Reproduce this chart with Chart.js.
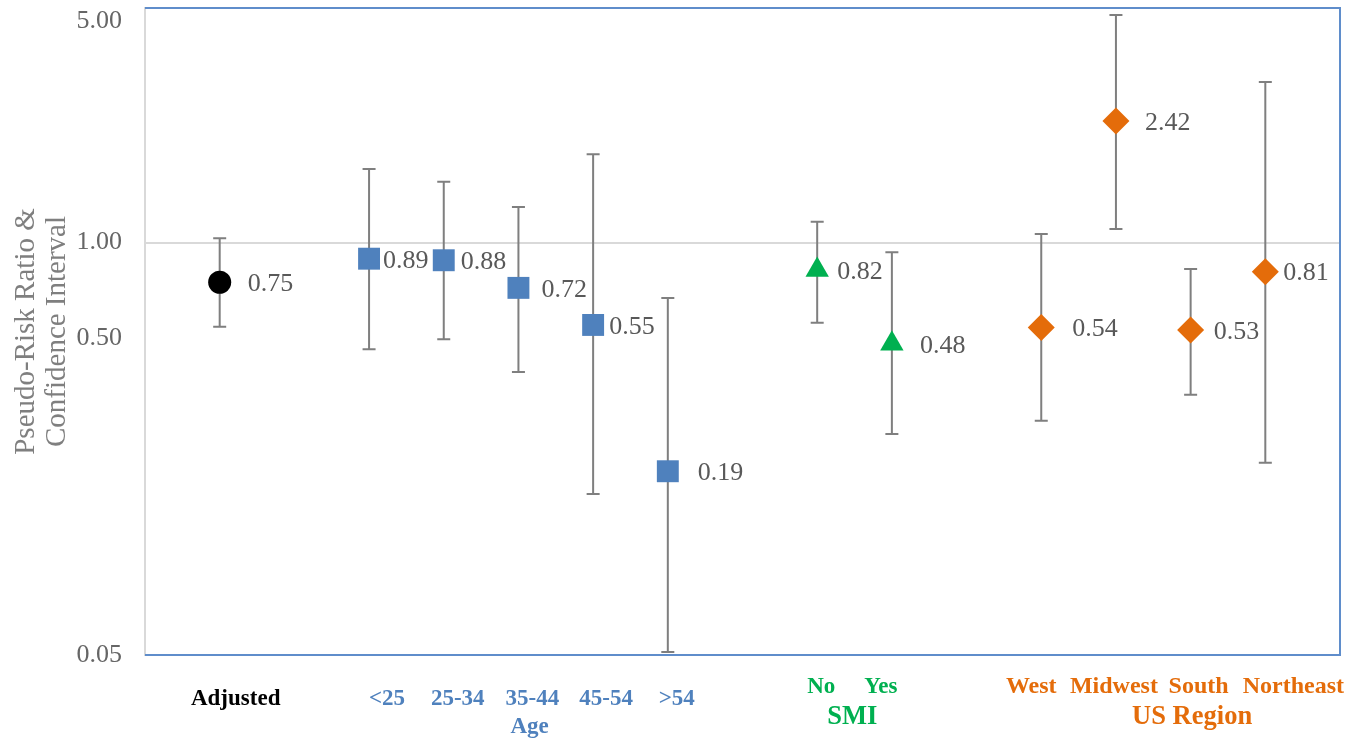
<!DOCTYPE html>
<html>
<head>
<meta charset="utf-8">
<title>Pseudo-Risk Ratio & Confidence Interval</title>
<script src="https://cdn.jsdelivr.net/npm/chart.js@4.4.1/dist/chart.umd.min.js"></script>
<style>
	html, body { margin: 0; padding: 0; background: #fff; }
	canvas { display: block; }
</style>
</head>
<body>
<canvas id="chartRatio" width="1362" height="743"></canvas>
<script>
'use strict'

// data
const categories = ['Adjusted', '<25', '25-34', '35-44', '45-54', '>54', 'No', 'Yes', 'West', 'Midwest', 'South', 'Northeast'];
const xPositions = [0, 2, 3, 4, 5, 6, 8, 9, 11, 12, 13, 14];
const ratios = [0.75, 0.89, 0.88, 0.72, 0.55, 0.19, 0.82, 0.48, 0.54, 2.42, 0.53, 0.81];
const lowerCI = [0.543, 0.461, 0.496, 0.391, 0.161, 0.0511, 0.559, 0.249, 0.274, 1.105, 0.331, 0.202];
const upperCI = [1.032, 1.708, 1.557, 1.296, 1.901, 0.669, 1.165, 0.933, 1.065, 5.23, 0.826, 3.21];
const groupOf = [0, 1, 1, 1, 1, 1, 2, 2, 3, 3, 3, 3];
const groupNames = ['', 'Age', 'SMI', 'US Region'];
const groupCenters = [null, 4.15, 8.47, 13.02];
const yTicks = [0.05, 0.5, 1, 5];

// styling
const serif = "'Liberation Serif', 'Times New Roman', serif";
const colors = {
	adjusted: '#000000',
	age: '#4F81BD',
	smi: '#00B050',
	region: '#E46C0A',
	whisker: '#7F7F7F',
	valueText: '#595959',
	tickText: '#666666',
	title: '#7F7F7F',
	axis: '#D9D9D9',
	frame: '#5F8DCB',
};
const groupStyle = [
	{color: colors.adjusted, size: 23, base: 705},
	{color: colors.age, size: 23, base: 705, gSize: 23, gBase: 733},
	{color: colors.smi, size: 23, base: 693, gSize: 26.5, gBase: 724},
	{color: colors.region, size: 24, base: 693, gSize: 26.5, gBase: 724},
];
const labelGap = [28, 14, 17, 23, 16, 30, 20, 28, 31, 29, 23, 18];
const catShift = [16, 18, 14, 14, 13, 9, 4, -11, -10, -2, 8, 28];

function points(from, to){
	return xPositions.slice(from, to).map((x, i) => ({x: x, y: ratios[from + i]}));
}

const errorBars = {
	id: 'errorBars',
	beforeDatasetsDraw(chart){
		const {ctx, chartArea, scales: {x, y}} = chart;
		ctx.save();
		// frame on top, right and bottom
		ctx.strokeStyle = colors.frame;
		ctx.lineWidth = 2;
		ctx.beginPath();
		ctx.moveTo(chartArea.left, chartArea.top);
		ctx.lineTo(chartArea.right, chartArea.top);
		ctx.lineTo(chartArea.right, chartArea.bottom);
		ctx.lineTo(chartArea.left, chartArea.bottom);
		ctx.stroke();

		ctx.strokeStyle = colors.whisker;
		ctx.lineWidth = 2;
		xPositions.forEach((v, i) => {
			const px = x.getPixelForValue(v);
			const top = y.getPixelForValue(upperCI[i]);
			const bottom = y.getPixelForValue(lowerCI[i]);
			ctx.beginPath();
			ctx.moveTo(px, top);
			ctx.lineTo(px, bottom);
			ctx.moveTo(px - 6.5, top);
			ctx.lineTo(px + 6.5, top);
			ctx.moveTo(px - 6.5, bottom);
			ctx.lineTo(px + 6.5, bottom);
			ctx.stroke();
		});
		ctx.restore();
	},
	afterDatasetsDraw(chart){
		const {ctx, scales: {x, y}} = chart;
		ctx.save();
		ctx.font = '26px ' + serif;
		ctx.fillStyle = colors.valueText;
		ctx.textAlign = 'left';
		ctx.textBaseline = 'middle';
		ratios.forEach((r, i) => {
			ctx.fillText(r.toFixed(2), x.getPixelForValue(xPositions[i]) + labelGap[i], y.getPixelForValue(r) + 2);
		});
		ctx.restore();
	},
};

const categoryLabels = {
	id: 'categoryLabels',
	afterDraw(chart){
		const {ctx, scales: {x}} = chart;
		ctx.save();
		ctx.textAlign = 'center';
		ctx.textBaseline = 'alphabetic';
		categories.forEach((name, i) => {
			const st = groupStyle[groupOf[i]];
			ctx.fillStyle = st.color;
			ctx.font = 'bold ' + st.size + 'px ' + serif;
			ctx.fillText(name, x.getPixelForValue(xPositions[i]) + catShift[i], st.base);
		});
		groupNames.forEach((name, g) => {
			if(!name) return;
			const st = groupStyle[g];
			ctx.fillStyle = st.color;
			ctx.font = 'bold ' + st.gSize + 'px ' + serif;
			ctx.fillText(name, x.getPixelForValue(groupCenters[g]), st.gBase);
		});
		ctx.restore();
	},
};

const pointBase = {
	borderWidth: 0,
	pointBorderWidth: 0,
	pointHoverRadius: 0,
	showLine: false,
};

let chartRatio = new Chart(document.getElementById('chartRatio'), {
	type: 'scatter',
	data: {
		datasets: [
			Object.assign({label: 'Adjusted', data: points(0, 1), pointStyle: 'circle', pointRadius: 11.5, backgroundColor: colors.adjusted}, pointBase),
			Object.assign({label: 'Age', data: points(1, 6), pointStyle: 'rect', pointRadius: 15.5, backgroundColor: colors.age}, pointBase),
			Object.assign({label: 'SMI', data: points(6, 8), pointStyle: 'triangle', pointRadius: 13.5, backgroundColor: colors.smi}, pointBase),
			Object.assign({label: 'US Region', data: points(8, 12), pointStyle: 'rectRot', pointRadius: 13.5, backgroundColor: colors.region}, pointBase),
		],
	},
	options: {
		responsive: false,
		animation: false,
		layout: {
			autoPadding: false,
			padding: {top: 8, right: 22, bottom: 88, left: 0},
		},
		plugins: {
			legend: {display: false},
			tooltip: {enabled: false},
		},
		scales: {
			x: {
				type: 'linear',
				display: false,
				min: -1,
				max: 15,
			},
			y: {
				type: 'logarithmic',
				min: 0.05,
				max: 5.5,
				afterBuildTicks: (scale) => {
					scale.ticks = yTicks.map(v => ({value: v}));
				},
				afterFit: (scale) => {
					scale.width = 145;
					scale.paddingTop = 0;
					scale.paddingBottom = 0;
				},
				ticks: {
					autoSkip: false,
					padding: 23,
					color: colors.tickText,
					font: {family: serif, size: 26},
					callback: (v) => Number(v).toFixed(2),
				},
				grid: {
					drawTicks: false,
					lineWidth: 2,
					color: (c) => c.tick && c.tick.value === 1 ? colors.axis : 'rgba(0,0,0,0)',
				},
				border: {
					color: colors.axis,
					width: 2,
				},
				title: {
					display: true,
					text: ['Pseudo-Risk Ratio &', 'Confidence Interval'],
					color: colors.title,
					font: {family: serif, size: 29, lineHeight: 1.1},
					padding: {top: 10, bottom: 0},
				},
			},
		},
	},
	plugins: [errorBars, categoryLabels],
});
</script>
</body>
</html>
